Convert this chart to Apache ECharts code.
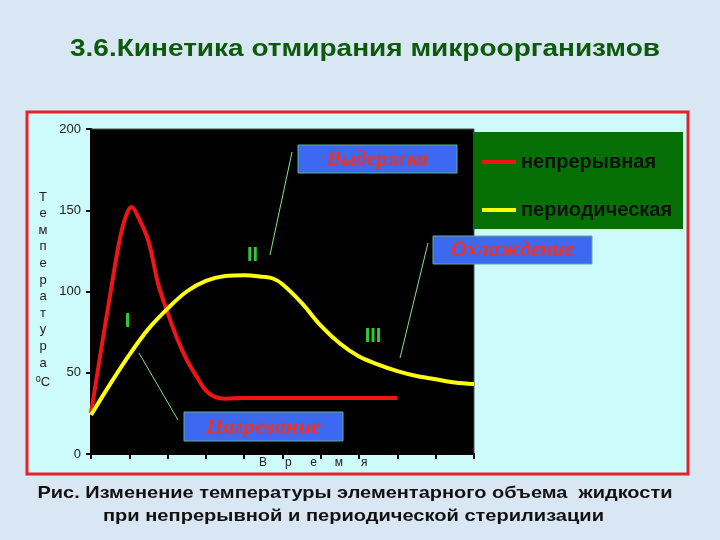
<!DOCTYPE html>
<html>
<head>
<meta charset="utf-8">
<script src="https://cdn.jsdelivr.net/npm/echarts@6/dist/echarts.min.js"></script>
<style>html,body{margin:0;padding:0;background:#d9e6f3;}#c{width:720px;height:540px;}</style>
</head>
<body>
<div id="c"></div>
<script>
// ---- data ----
const seriesNames = ['непрерывная', 'периодическая'];
const redX = [0, 0.25, 0.5, 0.75, 0.92, 1.06, 1.25, 1.5, 1.75, 2, 2.25, 2.5, 2.75, 3, 3.25, 3.5, 4, 5, 6, 7, 8];
const redY = [25, 62, 98, 132, 147, 152, 145, 131, 105, 87, 71, 58, 48, 39, 35, 34, 34.5, 34.5, 34.5, 34.5, 34.5];
const yelX = [0, 0.5, 1, 1.5, 2, 2.5, 3, 3.5, 4, 4.5, 4.75, 5, 5.5, 6, 6.5, 7, 7.5, 8, 8.5, 9, 9.5, 10];
const yelY = [24, 43, 61, 77, 89.5, 100, 106.5, 109.5, 110, 109, 108, 104.5, 93, 79, 68, 60, 55, 51, 48, 46, 44, 43];
const yTicks = [0, 50, 100, 150, 200];
const yName = ['Т','е','м','п','е','р','а','т','у','р','а'];
const xNameLetters = ['В','р','е','м','я'];
const stageLabels = ['I', 'II', 'III'];
const phaseLabels = ['Выдержка', 'Охлаждение', 'Нагревание'];
const titleText = '3.6.Кинетика отмирания микроорганизмов';
const captionLines = ['Рис. Изменение температуры элементарного объема  жидкости', 'при непрерывной и периодической стерилизации'];

const chart = echarts.init(document.getElementById('c'));
const pair = (xs, ys) => xs.map((x, i) => [x, ys[i]]);

const ctx = document.createElement('canvas').getContext('2d');
function fitScale(text, font, target) { ctx.font = font; return target / ctx.measureText(text).width; }
function stretchedText(text, font, cx, cy, targetW, fill, z) {
  return {type:'text', z: z || 5, x: cx, y: cy, scaleX: fitScale(text, font, targetW), originX: 0, originY: 0,
    style:{text: text, x: 0, y: 0, textAlign:'center', textVerticalAlign:'middle', font: font, fill: fill}};
}

const graphics = [];
// frame
graphics.push({type:'rect', z:-10, shape:{x:27, y:112, width:661, height:362},
  style:{fill:'#cdfafa', stroke:'#e8202a', lineWidth:3}});
// legend box
graphics.push({type:'rect', z:1, shape:{x:473, y:132, width:210, height:97}, style:{fill:'#067006'}});
// title & caption
graphics.push(stretchedText(titleText, 'bold 24px "Liberation Sans"', 365, 49, 590, '#0c5a0c'));
graphics.push(stretchedText(captionLines[0], 'bold 17px "Liberation Sans"', 355, 493, 635, '#111'));
graphics.push(stretchedText(captionLines[1], 'bold 17px "Liberation Sans"', 353.5, 516.5, 501, '#111'));
// y axis name
yName.forEach((ch, i) => graphics.push({type:'text', z:5, style:{text:ch, x:43, y:197 + i*16.6,
  textAlign:'center', textVerticalAlign:'middle', font:'13px "Liberation Sans"', fill:'#222'}}));
graphics.push({type:'text', z:5, style:{rich:{s:{fontSize:9, verticalAlign:'top', fill:'#222', fontFamily:'Liberation Sans'}, n:{fontSize:13, fill:'#222', fontFamily:'Liberation Sans'}},
  text:'{s|0}{n|С}', x:43, y:382, textAlign:'center', textVerticalAlign:'middle'}});
// x axis name
xNameLetters.forEach((ch, i) => graphics.push({type:'text', z:5, style:{text:ch, x:263 + i*25.3, y:463,
  textAlign:'center', textVerticalAlign:'middle', font:'12px "Liberation Sans"', fill:'#222'}}));
// leader lines
const leaders = [[292,152,270,255],[428,243,400,358],[139,353,178,420]];
leaders.forEach(l => graphics.push({type:'line', z:50, shape:{x1:l[0], y1:l[1], x2:l[2], y2:l[3]},
  style:{stroke:'#8be08b', lineWidth:1}}));
// phase boxes
const boxes = [[298,145,159,28],[433,236,159,28],[184,412,159,29]];
const phaseWidths = [101, 123, 115];
boxes.forEach((b, i) => {
  graphics.push({type:'rect', z:60, shape:{x:b[0], y:b[1], width:b[2], height:b[3]},
    style:{fill:'#3d68f2', stroke:'#5fb08a', lineWidth:1}});
  graphics.push(stretchedText(phaseLabels[i], 'italic bold 20px "Liberation Serif"', b[0]+b[2]/2, b[1]+b[3]/2+1,
    phaseWidths[i], '#ee3322', 61));
});
// stage numerals
const stagePos = [[127.5,321],[252.5,255.5],[373,336]];
stageLabels.forEach((s, i) => graphics.push({type:'text', z:60, style:{text:s, x:stagePos[i][0], y:stagePos[i][1],
  textAlign:'center', textVerticalAlign:'middle', font:'bold 20px "Liberation Sans"', fill:'#2fcc35'}}));

chart.setOption({
  backgroundColor: '#d9e6f3',
  animation: false,
  legend: {
    data: seriesNames, orient: 'vertical', left: 477, top: 147, itemGap: 28,
    icon: 'rect', itemWidth: 34, itemHeight: 4,
    textStyle: {fontFamily:'Liberation Sans', fontSize:20, fontWeight:'bold', color:'#111'}
  },
  grid: {left: 91, right: 246, top: 129, bottom: 86, show: true, backgroundColor: '#000', borderColor: '#555', borderWidth: 1},
  xAxis: {type:'value', min:0, max:10, interval:1,
    axisLine:{lineStyle:{color:'#000', width:2}}, axisTick:{show:true, length:5, lineStyle:{color:'#000', width:2}},
    axisLabel:{show:false}, splitLine:{show:false}},
  yAxis: {type:'value', min:0, max:200, interval:50,
    axisLine:{show:true, lineStyle:{color:'#000', width:2}}, axisTick:{show:true, length:5, lineStyle:{color:'#000', width:2}},
    axisLabel:{fontFamily:'Liberation Sans', fontSize:13, color:'#222', margin:10,
      formatter: v => yTicks.includes(v) ? String(v) : ''},
    splitLine:{show:false}},
  series: [
    {name: seriesNames[0], type:'line', data: pair(redX, redY), smooth:0.35, showSymbol:false,
     lineStyle:{color:'#f01515', width:4}, itemStyle:{color:'#f01515'}, z:3},
    {name: seriesNames[1], type:'line', data: pair(yelX, yelY), smooth:0.35, showSymbol:false,
     lineStyle:{color:'#ffff10', width:4}, itemStyle:{color:'#ffff10'}, z:4}
  ],
  graphic: graphics
});
</script>
</body>
</html>
